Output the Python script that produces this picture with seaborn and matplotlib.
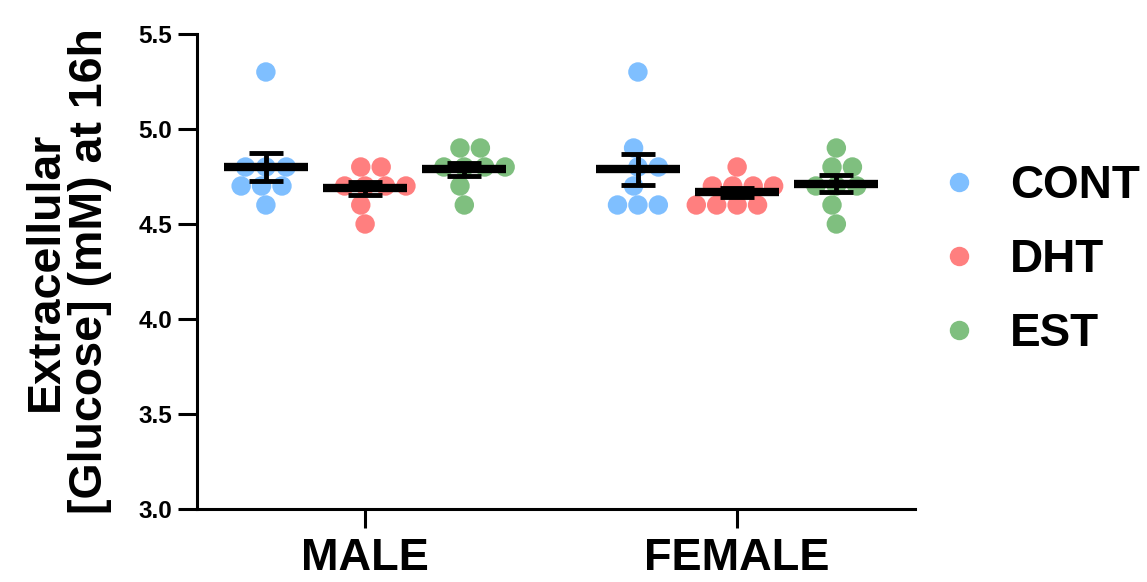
import numpy as np
import pandas as pd
import matplotlib
matplotlib.use("Agg")
import matplotlib.pyplot as plt
import seaborn as sns
from matplotlib.lines import Line2D

sns.set_style("ticks")
plt.rcParams['font.family'] = ['Liberation Sans', 'DejaVu Sans']
plt.rcParams['font.weight'] = 'bold'
for key in ["text.color", "axes.labelcolor", "xtick.color", "ytick.color", "axes.edgecolor"]:
    plt.rcParams[key] = "black"

# Extracellular glucose (mM) at 16 h, one value per replicate
sexes = ["MALE", "FEMALE"]
treatments = ["CONT", "DHT", "EST"]
male_cont = [5.3, 4.8, 4.8, 4.8, 4.7, 4.7, 4.7, 4.6]
male_dht = [4.8, 4.8, 4.7, 4.7, 4.7, 4.7, 4.6, 4.5]
male_est = [4.9, 4.9, 4.8, 4.8, 4.8, 4.8, 4.7, 4.6]
female_cont = [5.3, 4.9, 4.8, 4.8, 4.7, 4.6, 4.6, 4.6]
female_dht = [4.8, 4.7, 4.7, 4.7, 4.7, 4.6, 4.6, 4.6, 4.6]
female_est = [4.9, 4.8, 4.8, 4.7, 4.7, 4.7, 4.6, 4.5]
colors = ["#0080FF", "#FF0000", "#008000"]

groups = {
    ("MALE", "CONT"): male_cont, ("MALE", "DHT"): male_dht, ("MALE", "EST"): male_est,
    ("FEMALE", "CONT"): female_cont, ("FEMALE", "DHT"): female_dht, ("FEMALE", "EST"): female_est,
}
rows = [(s, t, v) for (s, t), vals in groups.items() for v in vals]
df = pd.DataFrame(rows, columns=["sex", "treatment", "glucose"])

fig = plt.figure(figsize=(11.47, 5.82), dpi=100)
ax = fig.add_axes([0.1717, 0.1254, 0.626, 0.8162])

palette = dict(zip(treatments, colors))
sns.swarmplot(data=df, x="sex", y="glucose", hue="treatment", order=sexes,
              hue_order=treatments, palette=palette, dodge=True, size=14,
              alpha=0.5, linewidth=0, ax=ax, legend=False, zorder=2)

# mean line with SEM error bars per group
n_h = len(treatments)
w = 0.8 / n_h
for i, s in enumerate(sexes):
    for j, t in enumerate(treatments):
        vals = np.array(groups[(s, t)])
        m = vals.mean()
        sem = vals.std(ddof=1) / np.sqrt(len(vals))
        x = i - 0.4 + w / 2 + j * w
        ax.hlines(m, x - 0.113, x + 0.113, color="black", lw=6, zorder=4)
        ax.errorbar(x, m, yerr=sem, color="black", elinewidth=3.5, capsize=12,
                    capthick=3.5, zorder=4, fmt="none")

ax.set_ylim(3.0, 5.5)
ax.set_xlim(-0.452, 1.478)
ax.set_yticks(np.arange(3.0, 5.51, 0.5))
ax.set_yticklabels([f"{v:.1f}" for v in np.arange(3.0, 5.51, 0.5)], fontsize=17.5, fontweight="bold")
ax.set_xticks([0, 1])
ax.set_xticklabels(sexes, fontsize=32.5, fontweight="bold")
ax.tick_params(axis="both", width=2.2, length=14, color="black")
ax.tick_params(axis="x", pad=7)
ax.tick_params(axis="y", pad=4)
for sp in ["top", "right"]:
    ax.spines[sp].set_visible(False)
for sp in ["left", "bottom"]:
    ax.spines[sp].set_linewidth(2.2)
    ax.spines[sp].set_color("black")
ax.set_xlabel("")
ax.set_ylabel("Extracellular\n[Glucose] (mM) at 16h", fontsize=33.5, fontweight="bold",
              linespacing=1.0, labelpad=19)

handles = [Line2D([0], [0], marker="o", linestyle="", markersize=14, alpha=0.5,
                  markerfacecolor=c, markeredgewidth=0) for c in colors]
leg = fig.legend(handles, treatments, loc="center left", bbox_to_anchor=(0.824, 0.553),
                 frameon=False, prop={"size": 33, "weight": "bold"},
                 handletextpad=0.82, labelspacing=0.65, handlelength=0.6,
                 borderaxespad=0, borderpad=0)

fig.savefig("out.png", dpi=100)
